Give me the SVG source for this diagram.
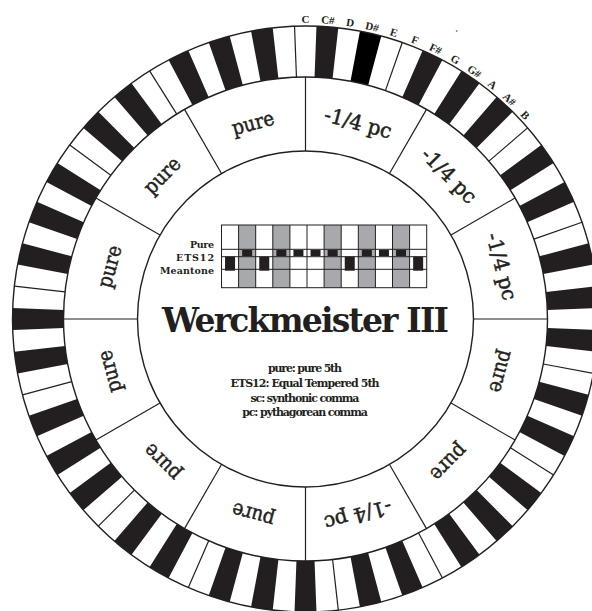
<svg xmlns="http://www.w3.org/2000/svg" width="592" height="611" viewBox="0 0 592 611">
<style>
.k{fill:#231f20}
.kd{fill:#000}
.ring{stroke:#231f20;fill:none;stroke-width:1.4}
.seg{font-family:"DejaVu Serif",serif;font-size:20.5px;fill:#231f20;stroke:#231f20;stroke-width:0.5;text-anchor:middle}
.note{font-family:"Liberation Serif",serif;font-weight:bold;font-size:11px;fill:#231f20;text-anchor:middle}
.title{font-family:"DejaVu Serif",serif;font-weight:bold;font-size:33px;fill:#231f20;text-anchor:middle}
.leg{font-family:"DejaVu Serif",serif;font-weight:bold;font-size:11px;fill:#231f20;text-anchor:middle}
.rl{font-family:"DejaVu Serif",serif;font-weight:bold;font-size:9.5px;fill:#231f20;text-anchor:end}
.gr{fill:#a7a9ac}
.cl{stroke:#231f20;stroke-width:1;fill:none}
</style>
<defs>
<path id="bk" d="M-10.956,-292.795A293,293 0 0 1 10.956,-292.795L9.049,-241.831A242,242 0 0 0 -9.049,-241.831Z"/>
<line id="sp" x1="0" y1="-242" x2="0" y2="-293" stroke="#231f20" stroke-width="1.2"/>
<line id="dv" x1="0" y1="-168" x2="0" y2="-242" stroke="#231f20" stroke-width="1.2"/>
</defs>
<rect width="592" height="611" fill="#fff"/>
<g id="keyboard" transform="translate(305.5 319)">
<circle r="293" fill="#fff"/>
<use href="#bk" class="k" transform="rotate(4.2857)"/>
<use href="#bk" class="kd" transform="rotate(12.8571)"/>
<use href="#bk" class="k" transform="rotate(25.7143)"/>
<use href="#bk" class="k" transform="rotate(34.2857)"/>
<use href="#bk" class="k" transform="rotate(42.8571)"/>
<use href="#bk" class="k" transform="rotate(55.7143)"/>
<use href="#bk" class="k" transform="rotate(64.2857)"/>
<use href="#bk" class="k" transform="rotate(77.1429)"/>
<use href="#bk" class="k" transform="rotate(85.7143)"/>
<use href="#bk" class="k" transform="rotate(94.2857)"/>
<use href="#bk" class="k" transform="rotate(107.1429)"/>
<use href="#bk" class="k" transform="rotate(115.7143)"/>
<use href="#bk" class="k" transform="rotate(128.5714)"/>
<use href="#bk" class="k" transform="rotate(137.1429)"/>
<use href="#bk" class="k" transform="rotate(145.7143)"/>
<use href="#bk" class="k" transform="rotate(158.5714)"/>
<use href="#bk" class="k" transform="rotate(167.1429)"/>
<use href="#bk" class="k" transform="rotate(180)"/>
<use href="#bk" class="k" transform="rotate(188.5714)"/>
<use href="#bk" class="k" transform="rotate(197.1429)"/>
<use href="#bk" class="k" transform="rotate(210)"/>
<use href="#bk" class="k" transform="rotate(218.5714)"/>
<use href="#bk" class="k" transform="rotate(231.4286)"/>
<use href="#bk" class="k" transform="rotate(240)"/>
<use href="#bk" class="k" transform="rotate(248.5714)"/>
<use href="#bk" class="k" transform="rotate(261.4286)"/>
<use href="#bk" class="k" transform="rotate(270)"/>
<use href="#bk" class="k" transform="rotate(282.8571)"/>
<use href="#bk" class="k" transform="rotate(291.4286)"/>
<use href="#bk" class="k" transform="rotate(300)"/>
<use href="#bk" class="k" transform="rotate(312.8571)"/>
<use href="#bk" class="k" transform="rotate(321.4286)"/>
<use href="#bk" class="k" transform="rotate(334.2857)"/>
<use href="#bk" class="k" transform="rotate(342.8571)"/>
<use href="#bk" class="k" transform="rotate(351.4286)"/>
<use href="#sp" transform="rotate(19.2857)"/>
<use href="#sp" transform="rotate(70.7143)"/>
<use href="#sp" transform="rotate(122.1429)"/>
<use href="#sp" transform="rotate(173.5714)"/>
<use href="#sp" transform="rotate(225)"/>
<use href="#sp" transform="rotate(276.4286)"/>
<use href="#sp" transform="rotate(327.8571)"/>
<use href="#sp" transform="rotate(49.2857)"/>
<use href="#sp" transform="rotate(100.7143)"/>
<use href="#sp" transform="rotate(152.1429)"/>
<use href="#sp" transform="rotate(203.5714)"/>
<use href="#sp" transform="rotate(255)"/>
<use href="#sp" transform="rotate(306.4286)"/>
<use href="#sp" transform="rotate(357.8571)"/>
<circle r="293" class="ring"/>
<circle r="242" class="ring"/>
<circle r="168" class="ring"/>
</g>
<g id="note-labels" transform="translate(305.5 319)">
<text class="note" y="-296">C</text>
<text class="note" y="-296" transform="rotate(4.2857)">C#</text>
<text class="note" y="-296" transform="rotate(8.5714)">D</text>
<text class="note" y="-296" transform="rotate(12.8571)">D#</text>
<text class="note" y="-296" transform="rotate(17.1429)">E</text>
<text class="note" y="-296" transform="rotate(21.4286)">F</text>
<text class="note" y="-296" transform="rotate(25.7143)">F#</text>
<text class="note" y="-296" transform="rotate(30)">G</text>
<text class="note" y="-296" transform="rotate(34.2857)">G#</text>
<text class="note" y="-296" transform="rotate(38.5714)">A</text>
<text class="note" y="-296" transform="rotate(42.8571)">A#</text>
<text class="note" y="-296" transform="rotate(47.1429)">B</text>
</g>
<circle cx="456.7" cy="31" r="0.9" fill="#8a8a8a"/>
<g id="connectors" transform="translate(305.5 319)">
<use href="#dv"/>
<use href="#dv" transform="rotate(30)"/>
<use href="#dv" transform="rotate(60)"/>
<use href="#dv" transform="rotate(90)"/>
<use href="#dv" transform="rotate(120)"/>
<use href="#dv" transform="rotate(150)"/>
<use href="#dv" transform="rotate(180)"/>
<use href="#dv" transform="rotate(210)"/>
<use href="#dv" transform="rotate(240)"/>
<use href="#dv" transform="rotate(270)"/>
<use href="#dv" transform="rotate(300)"/>
<use href="#dv" transform="rotate(330)"/>
</g>
<g transform="translate(305.5 319)">
<g id="seg-01"><text class="seg" y="-196" transform="rotate(15)" textLength="69" lengthAdjust="spacingAndGlyphs">-1/4 pc</text></g>
<g id="seg-02"><text class="seg" y="-196" transform="rotate(45)" textLength="69" lengthAdjust="spacingAndGlyphs">-1/4 pc</text></g>
<g id="seg-03"><text class="seg" y="-196" transform="rotate(75)" textLength="69" lengthAdjust="spacingAndGlyphs">-1/4 pc</text></g>
<g id="seg-04"><text class="seg" y="-196" transform="rotate(105)" textLength="43" lengthAdjust="spacingAndGlyphs">pure</text></g>
<g id="seg-05"><text class="seg" y="-196" transform="rotate(135)" textLength="43" lengthAdjust="spacingAndGlyphs">pure</text></g>
<g id="seg-06"><text class="seg" y="-196" transform="rotate(165)" textLength="69" lengthAdjust="spacingAndGlyphs">-1/4 pc</text></g>
<g id="seg-07"><text class="seg" y="-196" transform="rotate(195)" textLength="43" lengthAdjust="spacingAndGlyphs">pure</text></g>
<g id="seg-08"><text class="seg" y="-196" transform="rotate(225)" textLength="43" lengthAdjust="spacingAndGlyphs">pure</text></g>
<g id="seg-09"><text class="seg" y="-196" transform="rotate(255)" textLength="43" lengthAdjust="spacingAndGlyphs">pure</text></g>
<g id="seg-10"><text class="seg" y="-196" transform="rotate(285)" textLength="43" lengthAdjust="spacingAndGlyphs">pure</text></g>
<g id="seg-11"><text class="seg" y="-196" transform="rotate(315)" textLength="43" lengthAdjust="spacingAndGlyphs">pure</text></g>
<g id="seg-12"><text class="seg" y="-196" transform="rotate(345)" textLength="43" lengthAdjust="spacingAndGlyphs">pure</text></g>
</g>
<g id="chart">
<rect class="gr" x="238.6" y="225" width="17.1" height="62.7"/>
<rect class="gr" x="272.8" y="225" width="17.1" height="62.7"/>
<rect class="gr" x="324.1" y="225" width="17.1" height="62.7"/>
<rect class="gr" x="358.3" y="225" width="17.1" height="62.7"/>
<rect class="gr" x="392.5" y="225" width="17.1" height="62.7"/>
<path class="cl" d="M238.6,225V287.7M255.7,225V287.7M272.8,225V287.7M289.9,225V287.7M307,225V287.7M324.1,225V287.7M341.2,225V287.7M358.3,225V287.7M375.4,225V287.7M392.5,225V287.7M409.6,225V287.7M221.5,249.3H426.7M221.5,256.7H426.7M221.5,269.3H426.7"/>
<rect class="cl" x="221.5" y="225" width="205.2" height="62.7" stroke-width="1.3"/>
<g fill="#231f20">
<rect x="242.15" y="250" width="10" height="6"/>
<rect x="276.35" y="250" width="10" height="6"/>
<rect x="293.45" y="250" width="10" height="6"/>
<rect x="310.55" y="250" width="10" height="6"/>
<rect x="327.65" y="250" width="10" height="6"/>
<rect x="361.85" y="250" width="10" height="6"/>
<rect x="378.95" y="250" width="10" height="6"/>
<rect x="396.05" y="250" width="10" height="6"/>
<rect x="225.05" y="256.7" width="10" height="14"/>
<rect x="259.25" y="256.7" width="10" height="14"/>
<rect x="344.75" y="256.7" width="10" height="14"/>
<rect x="413.15" y="256.7" width="10" height="14"/>
</g>
<text class="rl" x="214" y="248" textLength="24">Pure</text>
<text class="rl" x="214" y="261" textLength="38">ETS12</text>
<text class="rl" x="214" y="274" textLength="54">Meantone</text>
</g>
<g id="title"><text class="title" x="305.5" y="332" textLength="287">Werckmeister III</text></g>
<g id="legend">
<text class="leg" x="305" y="372" textLength="74">pure: pure 5th</text>
<text class="leg" x="305" y="386.5" textLength="149">ETS12: Equal Tempered 5th</text>
<text class="leg" x="305" y="401.5" textLength="109">sc: synthonic comma</text>
<text class="leg" x="305" y="416" textLength="125.6">pc: pythagorean comma</text>
</g>
</svg>
